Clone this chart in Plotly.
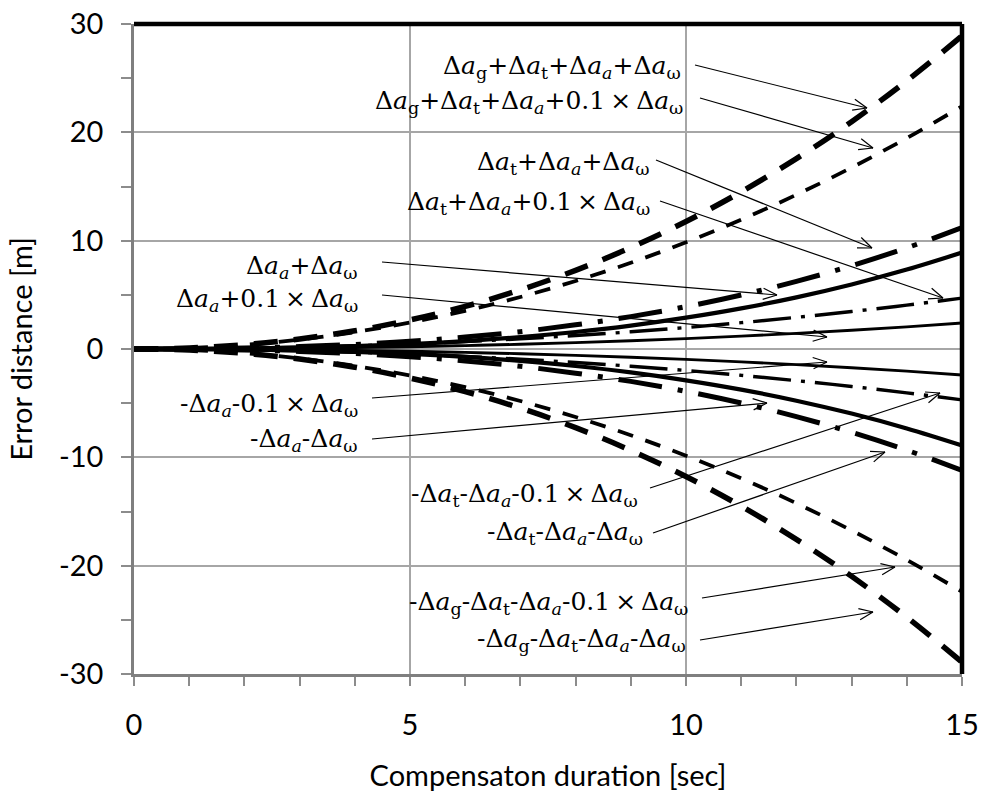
import math
import plotly.graph_objects as go

# ---------------- data ----------------
t = [0, 1, 2, 3, 4, 5, 6, 7, 8, 9, 10, 11, 12, 13, 14, 15]

g_t_a_w_pos   = [0, 0.10, 0.40, 0.93, 1.68, 2.68, 3.93, 5.46, 7.26, 9.36, 11.77, 14.51, 17.57, 20.98, 24.76, 28.90]
g_t_a_w01_pos = [0, 0.10, 0.39, 0.87, 1.56, 2.44, 3.52, 4.80, 6.28, 7.96, 9.85, 11.94, 14.24, 16.75, 19.47, 22.40]
t_a_w_pos     = [0, 0.02, 0.09, 0.22, 0.42, 0.71, 1.10, 1.60, 2.23, 2.99, 3.91, 4.99, 6.24, 7.69, 9.34, 11.20]
t_a_w01_pos   = [0, 0.02, 0.07, 0.17, 0.30, 0.47, 0.68, 0.94, 1.24, 1.59, 1.98, 2.43, 2.92, 3.46, 4.05, 4.70]
a_w_pos       = [0, 0.01, 0.05, 0.13, 0.26, 0.45, 0.73, 1.10, 1.57, 2.16, 2.89, 3.75, 4.77, 5.96, 7.33, 8.90]
a_w01_pos     = [0, 0.01, 0.03, 0.07, 0.13, 0.21, 0.32, 0.44, 0.59, 0.76, 0.96, 1.19, 1.44, 1.73, 2.05, 2.40]

g_t_a_w_neg   = [0, -0.10, -0.40, -0.93, -1.68, -2.68, -3.93, -5.46, -7.26, -9.36, -11.77, -14.51, -17.57, -20.98, -24.76, -28.90]
g_t_a_w01_neg = [0, -0.10, -0.39, -0.87, -1.56, -2.44, -3.52, -4.80, -6.28, -7.96, -9.85, -11.94, -14.24, -16.75, -19.47, -22.40]
t_a_w_neg     = [0, -0.02, -0.09, -0.22, -0.42, -0.71, -1.10, -1.60, -2.23, -2.99, -3.91, -4.99, -6.24, -7.69, -9.34, -11.20]
t_a_w01_neg   = [0, -0.02, -0.07, -0.17, -0.30, -0.47, -0.68, -0.94, -1.24, -1.59, -1.98, -2.43, -2.92, -3.46, -4.05, -4.70]
a_w_neg       = [0, -0.01, -0.05, -0.13, -0.26, -0.45, -0.73, -1.10, -1.57, -2.16, -2.89, -3.75, -4.77, -5.96, -7.33, -8.90]
a_w01_neg     = [0, -0.01, -0.03, -0.07, -0.13, -0.21, -0.32, -0.44, -0.59, -0.76, -0.96, -1.19, -1.44, -1.73, -2.05, -2.40]

x_ticks = [0, 5, 10, 15]
y_ticks = [-30, -20, -10, 0, 10, 20, 30]

# ---------------- styles ----------------
STY_G_FULL = dict(width=5.5, dash="24px,16px")
STY_G_01 = dict(width=3.8, dash="16px,13px")
STY_T_FULL = dict(width=5.0, dash="44px,16px,5px,16px")
STY_T_01 = dict(width=3.4, dash="38px,10px,4px,10px")
STY_A_FULL = dict(width=4.2, dash="solid")
STY_A_01 = dict(width=2.8, dash="solid")

series = [
    (g_t_a_w_pos, STY_G_FULL), (g_t_a_w01_pos, STY_G_01),
    (t_a_w_pos, STY_T_FULL), (t_a_w01_pos, STY_T_01),
    (a_w_pos, STY_A_FULL), (a_w01_pos, STY_A_01),
    (g_t_a_w_neg, STY_G_FULL), (g_t_a_w01_neg, STY_G_01),
    (t_a_w_neg, STY_T_FULL), (t_a_w01_neg, STY_T_01),
    (a_w_neg, STY_A_FULL), (a_w01_neg, STY_A_01),
]

W, H = 986, 792
ML, MR, MT, MB = 134, 24, 24, 118
X_MIN, X_MAX, Y_MIN, Y_MAX = 0, 15, -30, 30
XS = (W - ML - MR) / (X_MAX - X_MIN)
YS = (H - MT - MB) / (Y_MAX - Y_MIN)


def dx(px):
    return X_MIN + (px - ML) / XS


def dy(py):
    return Y_MAX - (py - MT) / YS


fig = go.Figure()
for ys, sty in series:
    fig.add_trace(go.Scatter(x=t, y=ys, mode="lines", line_shape="spline",
                             line=dict(color="black", **sty), showlegend=False,
                             hoverinfo="skip"))

D = "Δ<i>a</i>"
X = "\u2009×\u2009"
labels = [
    (f"{D}<sub>g</sub>+{D}<sub>t</sub>+{D}<sub><i>a</i></sub>+{D}<sub>ω</sub>", 683, 67, (695, 65), (867, 108)),
    (f"{D}<sub>g</sub>+{D}<sub>t</sub>+{D}<sub><i>a</i></sub>+0.1{X}{D}<sub>ω</sub>", 685, 102, (700, 98), (873, 148)),
    (f"{D}<sub>t</sub>+{D}<sub><i>a</i></sub>+{D}<sub>ω</sub>", 652, 163, (656, 160), (872, 248)),
    (f"{D}<sub>t</sub>+{D}<sub><i>a</i></sub>+0.1{X}{D}<sub>ω</sub>", 652, 203, (660, 201), (943, 298)),
    (f"{D}<sub><i>a</i></sub>+{D}<sub>ω</sub>", 360, 267, (382, 262), (777, 295)),
    (f"{D}<sub><i>a</i></sub>+0.1{X}{D}<sub>ω</sub>", 360, 300, (382, 295), (827, 337)),
    (f"-{D}<sub><i>a</i></sub>-0.1{X}{D}<sub>ω</sub>", 360, 405, (372, 398), (827, 362)),
    (f"-{D}<sub><i>a</i></sub>-{D}<sub>ω</sub>", 360, 440, (372, 439), (767, 403)),
    (f"-{D}<sub>t</sub>-{D}<sub><i>a</i></sub>-0.1{X}{D}<sub>ω</sub>", 640, 495, (650, 488), (940, 393)),
    (f"-{D}<sub>t</sub>-{D}<sub><i>a</i></sub>-{D}<sub>ω</sub>", 645, 533, (653, 533), (885, 452)),
    (f"-{D}<sub>g</sub>-{D}<sub>t</sub>-{D}<sub><i>a</i></sub>-0.1{X}{D}<sub>ω</sub>", 690, 603, (702, 598), (895, 567)),
    (f"-{D}<sub>g</sub>-{D}<sub>t</sub>-{D}<sub><i>a</i></sub>-{D}<sub>ω</sub>", 688, 640, (700, 640), (873, 612)),
]

shapes = []
annotations = []
for txt, rx, cy, tail, head in labels:
    annotations.append(dict(x=dx(rx), y=dy(cy), xref="x", yref="y", text=txt,
                            showarrow=False, xanchor="right", yanchor="middle",
                            font=dict(family="DejaVu Serif, Liberation Serif, serif",
                                      size=25, color="black")))
    shapes.append(dict(type="line", xref="x", yref="y", x0=dx(tail[0]), y0=dy(tail[1]),
                       x1=dx(head[0]), y1=dy(head[1]), line=dict(color="black", width=1.2)))
    ang = math.atan2(head[1] - tail[1], head[0] - tail[0])
    for s in (1, -1):
        a2 = ang + math.pi + s * math.radians(22)
        hx = head[0] + 15 * math.cos(a2)
        hy = head[1] + 15 * math.sin(a2)
        shapes.append(dict(type="line", xref="x", yref="y", x0=dx(head[0]), y0=dy(head[1]),
                           x1=dx(hx), y1=dy(hy), line=dict(color="black", width=1.2)))

# frame: thick top and right edges
shapes.append(dict(type="line", xref="paper", yref="paper", x0=0, y0=1, x1=1, y1=1,
                   line=dict(color="black", width=4.5)))
shapes.append(dict(type="line", xref="paper", yref="paper", x0=1, y0=0, x1=1, y1=1,
                   line=dict(color="black", width=4.5)))

TICKFONT = dict(family="Lato", size=29, color="black")

fig.update_layout(
    width=W, height=H, margin=dict(l=ML, r=MR, t=MT, b=MB, pad=0, autoexpand=False),
    plot_bgcolor="white", paper_bgcolor="white",
    shapes=shapes, annotations=annotations,
    xaxis=dict(range=[X_MIN, X_MAX], tickvals=x_ticks, ticktext=[str(v) for v in x_ticks],
               automargin=False,
               showgrid=True, gridcolor="#a6a6a6", gridwidth=1.5,
               showline=True, linecolor="#7f7f7f", linewidth=2.5,
               ticks="outside", ticklen=9, tickcolor="#8c8c8c", tickwidth=1.5,
               minor=dict(dtick=1, ticks="outside", ticklen=9, tickcolor="#8c8c8c",
                          tickwidth=1.5, showgrid=False),
               ticklabelstandoff=14, tickfont=TICKFONT, zeroline=False,
               title=dict(text="Compensaton duration [sec]", font=TICKFONT, standoff=32)),
    yaxis=dict(range=[Y_MIN, Y_MAX], tickvals=y_ticks, ticktext=[str(v) for v in y_ticks],
               automargin=False,
               showgrid=True, gridcolor="#a6a6a6", gridwidth=1.5,
               showline=True, linecolor="#7f7f7f", linewidth=2.5,
               ticks="outside", ticklen=10, tickcolor="#8c8c8c", tickwidth=1.5,
               minor=dict(dtick=5, ticks="outside", ticklen=10, tickcolor="#8c8c8c",
                          tickwidth=1.5, showgrid=False),
               ticklabelstandoff=12, tickfont=TICKFONT, zeroline=False,
               title=dict(text="Error distance [m]", font=TICKFONT, standoff=18)),
)

fig.write_html("out.html")
